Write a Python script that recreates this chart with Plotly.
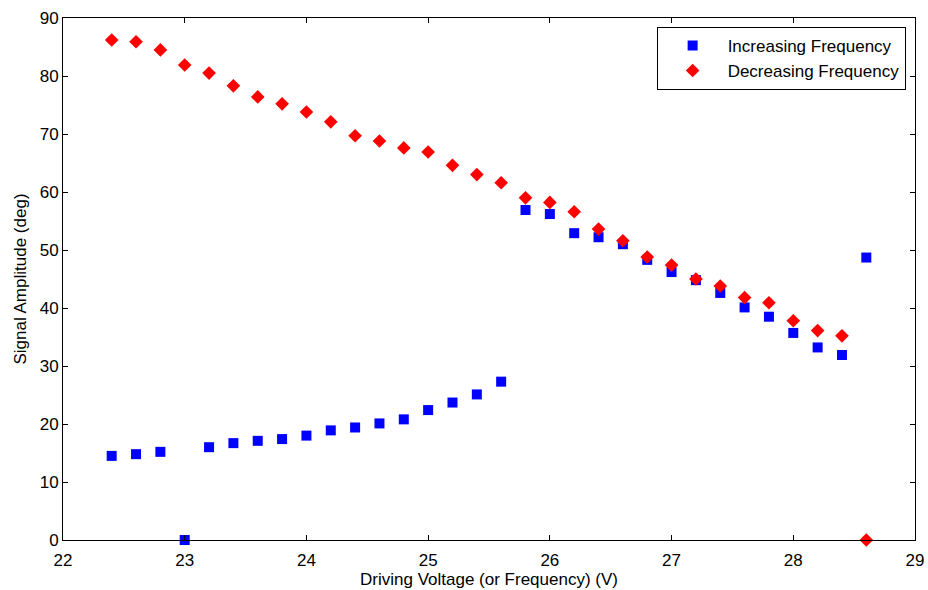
import plotly.graph_objects as go

# Driving voltage steps (V)
voltage = [22.4, 22.6, 22.8, 23.0, 23.2, 23.4, 23.6, 23.8, 24.0, 24.2, 24.4,
           24.6, 24.8, 25.0, 25.2, 25.4, 25.6, 25.8, 26.0, 26.2, 26.4, 26.6,
           26.8, 27.0, 27.2, 27.4, 27.6, 27.8, 28.0, 28.2, 28.4, 28.6]

# Signal amplitude (deg) sweeping upward in frequency
amp_increasing = [14.5, 14.8, 15.2, 0.0, 16.0, 16.7, 17.1, 17.4, 18.0, 18.9, 19.4,
                  20.1, 20.8, 22.4, 23.7, 25.1, 27.3, 56.9, 56.2, 52.9, 52.2, 51.0,
                  48.3, 46.2, 44.8, 42.6, 40.1, 38.5, 35.7, 33.2, 31.9, 48.7]

# Signal amplitude (deg) sweeping downward in frequency
amp_decreasing = [86.2, 85.9, 84.5, 81.9, 80.5, 78.3, 76.4, 75.2, 73.8, 72.1, 69.7,
                  68.8, 67.6, 66.9, 64.6, 63.0, 61.6, 59.0, 58.2, 56.6, 53.6, 51.6,
                  48.8, 47.4, 45.0, 43.8, 41.8, 40.9, 37.8, 36.1, 35.2, 0.0]

x_ticks = [22, 23, 24, 25, 26, 27, 28, 29]
y_ticks = [0, 10, 20, 30, 40, 50, 60, 70, 80, 90]

FONT = "Liberation Sans, Arial, Helvetica, sans-serif"
FS = 17

fig = go.Figure()
fig.add_trace(go.Scatter(
    x=voltage, y=amp_increasing, mode="markers", name="Increasing Frequency",
    marker=dict(symbol="square", size=10, color="#0000ff",
                line=dict(width=0)),
    cliponaxis=False,
))
fig.add_trace(go.Scatter(
    x=voltage, y=amp_decreasing, mode="markers", name="Decreasing Frequency",
    marker=dict(symbol="diamond", size=10.5, color="#ff0000",
                line=dict(width=0)),
    cliponaxis=False,
))

axis_common = dict(
    showgrid=False, zeroline=False, automargin=False,
    showline=True, linecolor="black", linewidth=1,
    mirror="ticks", ticks="inside", ticklen=5, tickcolor="black", tickwidth=1,
    tickfont=dict(family=FONT, size=FS, color="black"),
)

fig.update_layout(
    width=928, height=590,
    margin=dict(l=63, r=13, t=18, b=50),
    paper_bgcolor="white", plot_bgcolor="white",
    font=dict(family=FONT, size=FS, color="black"),
    showlegend=True,
    legend=dict(
        x=0.989, y=0.983, xanchor="right", yanchor="top",
        bgcolor="white", bordercolor="black", borderwidth=1,
        font=dict(family=FONT, size=FS, color="black"),
        tracegroupgap=0, itemwidth=60,
    ),
    xaxis=dict(
        range=[22, 29], tickvals=x_ticks, ticktext=[str(v) for v in x_ticks],
        ticklabelstandoff=5,
        title=dict(text="Driving Voltage (or Frequency) (V)",
                   font=dict(family=FONT, size=FS), standoff=1),
        **axis_common,
    ),
    yaxis=dict(
        range=[0, 90], tickvals=y_ticks, ticktext=[str(v) for v in y_ticks],
        title=dict(text="Signal Amplitude (deg)",
                   font=dict(family=FONT, size=FS), standoff=8),
        **axis_common,
    ),
)

fig.write_html("out.html")
